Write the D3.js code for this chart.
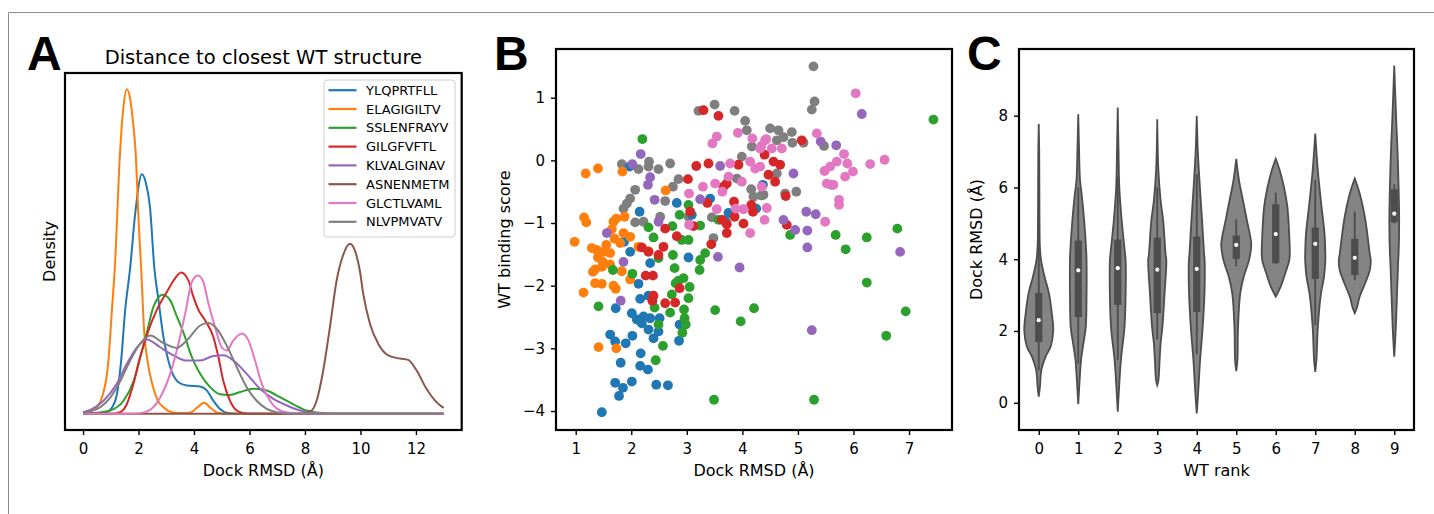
<!DOCTYPE html>
<html><head><meta charset="utf-8">
<script src="https://cdn.jsdelivr.net/npm/d3@7"></script>
<style>
body{margin:0;background:#fff}
text{font-family:"DejaVu Sans",sans-serif;fill:#000}
</style></head><body>
<svg id="c" width="1434" height="514"></svg>
<script>
// ---------- DATA ----------
const peptides = ["YLQPRTFLL","ELAGIGILTV","SSLENFRAYV","GILGFVFTL","KLVALGINAV","ASNENMETM","GLCTLVAML","NLVPMVATV"];
const colors = ["#1f77b4","#ff7f0e","#2ca02c","#d62728","#9467bd","#8c564b","#e377c2","#7f7f7f"];

// Panel A: KDE curves [Dock RMSD, density]
const kdeYLQ = [[0,0],[0.6,0.001],[0.86,0.005],[1.16,0.04],[1.37,0.16],[1.52,0.32],[1.70,0.45],[1.88,0.617],[2.12,0.738],[2.27,0.71],[2.41,0.64],[2.57,0.45],[2.72,0.35],[2.9,0.236],[3.14,0.144],[3.44,0.097],[3.74,0.087],[4.22,0.084],[4.46,0.072],[4.70,0.04],[4.94,0.015],[5.18,0.003],[5.6,0],[13,0]];
const kdeELA = [[0,0.003],[0.3,0.008],[0.5,0.02],[0.7,0.055],[0.9,0.15],[1.05,0.33],[1.16,0.47],[1.3,0.75],[1.45,0.94],[1.58,1.0],[1.7,0.97],[1.8,0.90],[1.9,0.80],[2.0,0.6],[2.1,0.44],[2.2,0.26],[2.35,0.15],[2.5,0.09],[2.7,0.04],[2.9,0.02],[3.2,0.005],[3.6,0.002],[3.9,0.005],[4.1,0.018],[4.37,0.034],[4.6,0.018],[4.85,0.003],[5.2,0],[13,0]];
const kdeSSL = [[0,0],[0.5,0.003],[0.98,0.01],[1.46,0.04],[1.82,0.10],[2.06,0.175],[2.3,0.25],[2.54,0.33],[2.87,0.367],[3.14,0.35],[3.38,0.30],[3.62,0.25],[3.92,0.175],[4.22,0.123],[4.58,0.082],[4.94,0.06],[5.30,0.058],[5.66,0.067],[6.14,0.077],[6.62,0.072],[7.1,0.051],[7.58,0.029],[8.06,0.01],[8.54,0.003],[9.2,0],[13,0]];
const kdeGIL = [[0,0],[1.0,0],[1.34,0.005],[1.58,0.03],[1.82,0.093],[2.06,0.175],[2.36,0.257],[2.66,0.32],[3.02,0.375],[3.26,0.41],[3.54,0.435],[3.8,0.41],[3.98,0.36],[4.16,0.32],[4.40,0.288],[4.70,0.236],[4.88,0.175],[5.06,0.10],[5.30,0.04],[5.54,0.01],[5.8,0.002],[6.2,0],[13,0]];
const kdeKLV = [[0,0.005],[0.26,0.012],[0.74,0.04],[1.22,0.093],[1.58,0.154],[1.94,0.204],[2.30,0.229],[2.78,0.205],[3.26,0.18],[3.74,0.164],[4.22,0.164],[4.70,0.178],[5.06,0.18],[5.42,0.164],[5.9,0.123],[6.38,0.077],[6.86,0.046],[7.34,0.026],[7.82,0.01],[8.3,0.003],[9.0,0],[13,0]];
const kdeASN = [[0,0],[7.6,0],[8.0,0.002],[8.24,0.01],[8.42,0.04],[8.66,0.134],[8.9,0.267],[9.14,0.41],[9.38,0.49],[9.62,0.524],[9.80,0.503],[9.98,0.44],[10.1,0.37],[10.34,0.278],[10.64,0.216],[11.0,0.18],[11.42,0.17],[11.72,0.166],[12.02,0.134],[12.38,0.077],[12.74,0.036],[13,0.018]];
const kdeGLC = [[0,0],[1.6,0],[2.06,0.002],[2.42,0.012],[2.78,0.05],[3.14,0.123],[3.44,0.216],[3.68,0.308],[3.92,0.405],[4.14,0.426],[4.32,0.41],[4.52,0.34],[4.76,0.267],[5.0,0.205],[5.18,0.195],[5.42,0.226],[5.72,0.247],[5.96,0.226],[6.2,0.164],[6.44,0.093],[6.74,0.04],[7.1,0.01],[7.46,0.003],[8.0,0],[13,0]];
const kdeNLV = [[0,0.003],[0.14,0.005],[0.62,0.02],[0.98,0.05],[1.34,0.10],[1.7,0.164],[2.06,0.216],[2.42,0.241],[2.90,0.218],[3.38,0.203],[3.74,0.226],[4.22,0.272],[4.52,0.28],[4.82,0.262],[5.18,0.21],[5.54,0.144],[5.9,0.082],[6.26,0.04],[6.62,0.015],[6.98,0.005],[7.5,0],[13,0]];
const kdeSeries = [kdeYLQ,kdeELA,kdeSSL,kdeGIL,kdeKLV,kdeASN,kdeGLC,kdeNLV];
const ticksA = [0,2,4,6,8,10,12];

// Panel B: scatter [Dock RMSD, WT binding score]
const ptsYLQ = [[1.97,-0.10],[2.82,-0.68],[2.15,-0.82],[3.09,-0.87],[3.42,-0.61],[3.75,-0.84],[3.70,-0.98],[4.25,-0.77],[4.37,-0.39],[1.87,-1.30],[1.98,-1.46],[2.34,-1.64],[3.03,-1.55],[2.13,-1.97],[2.16,-2.21],[2.31,-2.16],[1.72,-2.36],[2.01,-2.44],[2.10,-2.54],[2.22,-2.49],[2.34,-2.52],[2.19,-2.60],[2.31,-2.70],[2.40,-2.84],[2.49,-2.73],[2.51,-2.52],[1.62,-2.78],[1.90,-2.92],[2.02,-2.80],[1.71,-2.89],[2.87,-2.62],[2.86,-2.88],[2.17,-3.08],[2.16,-3.28],[2.30,-3.34],[1.81,-3.23],[1.71,-3.55],[1.85,-3.63],[1.78,-3.76],[2.01,-3.53],[2.45,-3.58],[2.66,-3.59],[1.47,-4.02]];
const ptsELA = [[1.18,-0.21],[1.40,-0.13],[1.84,-0.18],[2.62,-0.48],[1.15,-0.91],[1.19,-0.99],[1.68,-0.98],[1.73,-0.93],[1.88,-0.90],[0.98,-1.30],[1.86,-1.16],[1.98,-1.22],[1.29,-1.40],[1.38,-1.43],[1.50,-1.46],[1.62,-1.48],[1.80,-1.32],[1.70,-1.25],[1.55,-1.35],[1.65,-1.10],[2.13,-1.38],[2.31,-1.45],[1.35,-1.74],[1.47,-1.70],[1.14,-2.11],[1.35,-1.96],[1.47,-1.97],[1.68,-2.00],[1.83,-1.77],[1.98,-1.90],[1.41,-2.98],[1.73,-3.00],[1.62,-1.66],[1.72,-2.05],[1.40,-1.55],[1.31,-1.78],[1.49,-1.62]];
const ptsSSL = [[2.20,0.34],[7.44,0.65],[3.03,-0.71],[2.87,-0.87],[3.24,-1.04],[2.74,-1.05],[2.31,-1.07],[2.40,-1.23],[2.91,-1.27],[3.03,-1.27],[2.75,-1.51],[3.33,-1.48],[3.24,-1.59],[2.49,-1.56],[4.86,-1.19],[5.68,-1.19],[6.24,-1.23],[6.79,-1.09],[5.86,-1.42],[3.57,-0.95],[1.67,-1.75],[2.02,-1.81],[2.78,-1.72],[3.23,-1.75],[1.41,-2.33],[2.42,-2.35],[2.49,-2.62],[2.80,-1.96],[2.94,-1.88],[3.05,-2.02],[3.03,-2.20],[2.73,-2.14],[2.95,-2.38],[2.96,-2.52],[2.70,-2.43],[2.92,-2.75],[2.57,-2.96],[2.44,-3.19],[3.51,-2.39],[3.97,-2.57],[4.21,-2.36],[3.49,-3.82],[5.29,-3.82],[6.24,-1.95],[6.59,-2.80],[6.94,-2.41],[2.85,-1.92],[2.98,-2.62]];
const ptsGIL = [[3.30,0.80],[3.57,0.71],[5.07,0.32],[3.17,-0.09],[3.39,-0.05],[3.93,-0.07],[4.40,0.09],[4.56,-0.02],[4.68,-0.07],[4.47,-0.23],[4.59,-0.34],[3.02,-0.30],[3.72,-0.37],[3.66,-0.42],[4.78,-0.57],[3.37,-0.68],[3.06,-0.82],[3.85,-0.66],[4.16,-0.71],[4.19,-0.82],[3.86,-0.90],[4.02,-1.01],[3.63,-0.95],[3.72,-1.02],[3.72,-1.16],[4.80,-1.03],[3.12,-1.05],[2.82,-1.21],[2.61,-1.09],[3.44,-1.34],[2.58,-1.38],[2.19,-1.39],[2.49,-1.51],[2.31,-1.46],[2.26,-1.84],[2.39,-1.84],[2.40,-2.16],[2.38,-2.24],[2.61,-2.28],[2.79,-2.27],[2.87,-2.04]];
const ptsKLV = [[6.15,0.74],[5.41,0.30],[5.69,0.24],[2.17,0.10],[2.02,-0.06],[3.60,-0.09],[4.92,-0.21],[2.34,-0.27],[2.30,-0.39],[2.42,-0.63],[3.24,-0.62],[2.49,-0.98],[5.15,-0.82],[5.32,-0.86],[4.74,-0.95],[4.95,-1.11],[5.17,-1.12],[5.17,-1.39],[6.84,-1.46],[3.56,-1.54],[3.95,-1.71],[1.56,-1.16],[1.86,-1.62],[1.81,-2.24],[5.25,-2.71]];
const ptsASN = [];
const ptsGLC = [[6.04,1.07],[5.34,0.43],[3.92,0.44],[3.54,0.38],[3.46,0.27],[4.18,0.35],[4.41,0.32],[4.53,0.19],[4.71,0.19],[4.32,0.19],[6.56,0.01],[6.30,-0.06],[5.83,0.10],[5.89,-0.05],[5.70,-0.02],[5.58,-0.10],[5.48,-0.17],[5.99,-0.18],[5.85,-0.26],[5.52,-0.37],[5.64,-0.39],[5.74,-0.63],[5.74,-0.71],[5.49,-0.98],[4.14,-0.02],[4.23,-0.13],[4.32,-0.10],[3.75,-0.26],[3.99,-0.34],[3.51,-0.37],[3.64,-0.50],[3.29,-0.42],[3.04,-0.53],[4.35,-0.42],[4.44,-0.76],[4.02,-0.78],[3.88,-0.77],[3.54,-0.78],[4.40,-0.95],[4.14,-1.16],[3.04,-1.03],[3.78,-0.05],[4.43,0.34],[4.34,0.23]];
const ptsNLV = [[5.28,1.50],[5.30,0.94],[5.25,0.81],[3.50,0.89],[3.21,0.79],[3.86,0.79],[4.05,0.63],[4.08,0.48],[4.50,0.51],[4.65,0.48],[4.74,0.37],[4.89,0.45],[4.90,0.28],[5.10,0.28],[5.47,0.23],[4.17,0.22],[3.99,0.06],[4.62,0.32],[1.83,-0.06],[2.32,-0.02],[2.70,-0.05],[2.49,-0.14],[2.13,-0.14],[2.31,-0.10],[2.85,-0.30],[2.75,-0.42],[2.07,-0.47],[1.98,-0.61],[1.92,-0.69],[1.86,-0.77],[2.61,-0.65],[2.52,-0.90],[2.07,-0.99],[2.22,-0.98],[3.03,-0.90],[3.45,-0.91],[3.48,-1.24],[4.38,-0.55],[4.20,-0.58],[4.77,-0.53],[4.97,-0.50],[5.61,-0.39],[3.90,-0.29],[4.62,-0.21],[4.34,-0.56],[4.16,-0.46]];
const scatterSeries = [ptsYLQ,ptsELA,ptsSSL,ptsGIL,ptsKLV,ptsASN,ptsGLC,ptsNLV];
const scatterOrder = [7,0,1,2,3,4,5,6];
const ticksBx = [1,2,3,4,5,6,7];
const ticksBy = [-4,-3,-2,-1,0,1];

// Panel C: violins, profile [Dock RMSD, half width (rank units)]
const ranks = [0,1,2,3,4,5,6,7,8,9];
const violinProfiles = [
  [[0.17,0],[0.44,0.03],[0.91,0.065],[1.28,0.17],[1.56,0.30],[2.02,0.367],[2.5,0.33],[3.04,0.26],[3.5,0.15],[3.96,0.06],[4.33,0.03],[4.62,0.022],[6.0,0.016],[7.0,0.012],[7.77,0]],
  [[-0.04,0],[0.72,0.04],[1.19,0.07],[1.65,0.13],[2.1,0.19],[3.04,0.21],[3.96,0.21],[4.15,0.205],[5.08,0.15],[5.83,0.085],[6.2,0.045],[7.0,0.022],[8.04,0]],
  [[-0.25,0],[0.44,0.035],[1.19,0.08],[2.1,0.17],[3.04,0.2],[3.96,0.2],[4.15,0.185],[5.08,0.1],[6.0,0.04],[7.0,0.02],[8.23,0]],
  [[0.49,0],[0.63,0.03],[1.19,0.06],[1.65,0.085],[2.1,0.13],[3.04,0.185],[3.96,0.23],[4.15,0.21],[5.08,0.15],[5.64,0.085],[6.5,0.028],[7.9,0]],
  [[-0.3,0],[0.26,0.035],[1.19,0.085],[2.1,0.15],[3.04,0.195],[3.96,0.2],[4.15,0.185],[5.08,0.135],[6.0,0.08],[7.0,0.028],[8.0,0]],
  [[0.88,0],[1.19,0.03],[2.1,0.045],[3.04,0.1],[3.5,0.185],[3.96,0.32],[4.41,0.38],[5.08,0.27],[5.64,0.17],[6.2,0.07],[6.8,0]],
  [[2.96,0],[3.22,0.12],[3.59,0.235],[3.96,0.34],[4.15,0.355],[4.7,0.34],[5.45,0.295],[6.0,0.21],[6.48,0.1],[6.8,0]],
  [[0.86,0],[1.19,0.03],[2.1,0.065],[3.04,0.145],[3.5,0.22],[3.96,0.255],[4.15,0.255],[4.7,0.235],[5.55,0.15],[6.48,0.065],[7.5,0]],
  [[2.5,0],[2.67,0.06],[2.94,0.12],[3.31,0.255],[3.69,0.38],[3.96,0.405],[4.15,0.38],[5.08,0.27],[5.83,0.125],[6.25,0]],
  [[1.28,0],[2.1,0.04],[3.04,0.07],[3.96,0.1],[4.15,0.11],[5.08,0.125],[6.01,0.11],[6.95,0.085],[7.88,0.05],[9.4,0]]
];
const boxQ1 =     [1.69,2.39,2.73,2.50,2.53,4.01,3.89,3.45,3.56,5.03];
const boxMedian = [2.30,3.69,3.75,3.71,3.73,4.40,4.70,4.43,4.04,5.27];
const boxQ3 =     [3.06,4.52,4.55,4.60,4.63,4.66,5.53,4.88,4.57,5.95];
const whiskLo =   [0.90,1.09,1.19,1.76,1.35,3.80,3.87,2.16,3.41,5.00];
const whiskHi =   [4.90,6.00,6.30,6.00,6.37,5.11,5.86,6.20,5.33,6.09];
const ticksCy = [0,2,4,6,8];

// ---------- DRAW ----------
const svg = d3.select("#c");
svg.append("rect").attr("width",1434).attr("height",514).attr("fill","#fff");
svg.append("path").attr("d","M8.5,514V12.5H1434").attr("fill","none").attr("stroke","#8a8a8a").attr("stroke-width",1);

const TICKFS = "15px", LABFS = "16px";
const fmtInt = d3.format("d");

function styleAxis(g){
  g.select(".domain").remove();
  g.selectAll(".tick line").attr("stroke","#000").attr("stroke-width",1.4);
  g.selectAll(".tick text").style("font-size",TICKFS).attr("fill","#000");
}
function box(x0,x1,y0,y1){
  svg.append("rect").attr("x",x0).attr("y",y0).attr("width",x1-x0).attr("height",y1-y0)
    .attr("fill","none").attr("stroke","#000").attr("stroke-width",2.2);
}
function panelLetter(t,x){
  svg.append("text").attr("x",x).attr("y",70).text(t)
    .style("font-family","'Liberation Sans',Arial,sans-serif").style("font-weight","bold").style("font-size","48px");
}

// ---- Panel A ----
const AL=65, AR=461.7, AT=73, AB=430;
const xA = d3.scaleLinear().domain([-0.65,13.65]).range([AL,AR]);
const yA = d3.scaleLinear().domain([-0.05,1.05]).range([AB,AT]);
const lineA = d3.line().x(d=>xA(d[0])).y(d=>yA(d[1])).curve(d3.curveMonotoneX);
kdeSeries.forEach((s,i)=>{
  svg.append("path").attr("d",lineA(s)).attr("fill","none").attr("stroke",colors[i]).attr("stroke-width",2);
});
svg.append("g").attr("transform",`translate(0,${AB})`)
  .call(d3.axisBottom(xA).tickValues(ticksA).tickFormat(fmtInt).tickSize(5).tickPadding(8.3).tickSizeOuter(0)).call(styleAxis);
box(AL,AR,AT,AB);
const lg = svg.append("g");
lg.append("rect").attr("x",324).attr("y",80).attr("width",131).attr("height",157).attr("rx",3)
  .attr("fill","#fff").attr("fill-opacity",0.8).attr("stroke","#d0d0d0").attr("stroke-width",1);
peptides.forEach((p,i)=>{
  const yy = 90.2 + i*18.8;
  lg.append("line").attr("x1",328.5).attr("x2",356.5).attr("y1",yy).attr("y2",yy).attr("stroke",colors[i]).attr("stroke-width",2.2);
  lg.append("text").attr("x",366).attr("y",yy).attr("dy","0.36em").text(p).style("font-size","13px");
});
svg.append("text").attr("x",(AL+AR)/2).attr("y",64).attr("text-anchor","middle").text("Distance to closest WT structure").style("font-size","19.5px");
svg.append("text").attr("x",(AL+AR)/2).attr("y",476).attr("text-anchor","middle").text("Dock RMSD (Å)").style("font-size",LABFS);
svg.append("text").attr("transform",`translate(55,${(AT+AB)/2}) rotate(-90)`).attr("text-anchor","middle").text("Density").style("font-size",LABFS);
panelLetter("A",27);

// ---- Panel B ----
const BL=556, BR=952, BT=49, BB=430;
const xB = d3.scaleLinear().domain([0.645,7.774]).range([BL,BR]);
const yB = d3.scaleLinear().domain([-4.303,1.777]).range([BB,BT]);
scatterOrder.forEach(i=>{
  svg.append("g").selectAll("circle").data(scatterSeries[i]).join("circle")
    .attr("cx",d=>xB(d[0])).attr("cy",d=>yB(d[1])).attr("r",4.9).attr("fill",colors[i]);
});
svg.append("g").attr("transform",`translate(0,${BB})`)
  .call(d3.axisBottom(xB).tickValues(ticksBx).tickFormat(fmtInt).tickSize(5).tickPadding(8.3).tickSizeOuter(0)).call(styleAxis);
svg.append("g").attr("transform",`translate(${BL},0)`)
  .call(d3.axisLeft(yB).tickValues(ticksBy).tickFormat(fmtInt).tickSize(5).tickPadding(6).tickSizeOuter(0)).call(styleAxis);
box(BL,BR,BT,BB);
svg.append("text").attr("x",(BL+BR)/2).attr("y",476).attr("text-anchor","middle").text("Dock RMSD (Å)").style("font-size",LABFS);
svg.append("text").attr("transform",`translate(510,${(BT+BB)/2}) rotate(-90)`).attr("text-anchor","middle").text("WT binding score").style("font-size",LABFS);
panelLetter("B",494);

// ---- Panel C ----
const CL=1019, CR=1414, CT=49, CB=430;
const xC = d3.scaleLinear().domain([-0.5,9.5]).range([CL,CR]);
const yC = d3.scaleLinear().domain([-0.76,9.86]).range([CB,CT]);
ranks.forEach((k,i)=>{
  const area = d3.area().y(d=>yC(d[0])).x0(d=>xC(k-d[1])).x1(d=>xC(k+d[1])).curve(d3.curveCatmullRom.alpha(0.5));
  svg.append("path").attr("d",area(violinProfiles[i])).attr("fill","#848484").attr("stroke","#4d4d4d").attr("stroke-width",1.8);
  svg.append("line").attr("x1",xC(k)).attr("x2",xC(k)).attr("y1",yC(whiskLo[i])).attr("y2",yC(whiskHi[i]))
    .attr("stroke","#4d4d4d").attr("stroke-width",1.8);
  svg.append("rect").attr("x",xC(k)-3.6).attr("width",7.2).attr("y",yC(boxQ3[i])).attr("height",yC(boxQ1[i])-yC(boxQ3[i]))
    .attr("fill","#4d4d4d");
  svg.append("circle").attr("cx",xC(k)).attr("cy",yC(boxMedian[i])).attr("r",2.1).attr("fill","#fff");
});
svg.append("g").attr("transform",`translate(0,${CB})`)
  .call(d3.axisBottom(xC).tickValues(ranks).tickFormat(fmtInt).tickSize(5).tickPadding(8.3).tickSizeOuter(0)).call(styleAxis);
svg.append("g").attr("transform",`translate(${CL},0)`)
  .call(d3.axisLeft(yC).tickValues(ticksCy).tickFormat(fmtInt).tickSize(5).tickPadding(6).tickSizeOuter(0)).call(styleAxis);
box(CL,CR,CT,CB);
svg.append("text").attr("x",(CL+CR)/2).attr("y",476).attr("text-anchor","middle").text("WT rank").style("font-size",LABFS);
svg.append("text").attr("transform",`translate(982,${(CT+CB)/2}) rotate(-90)`).attr("text-anchor","middle").text("Dock RMSD (Å)").style("font-size",LABFS);
panelLetter("C",967);
</script></body></html>
